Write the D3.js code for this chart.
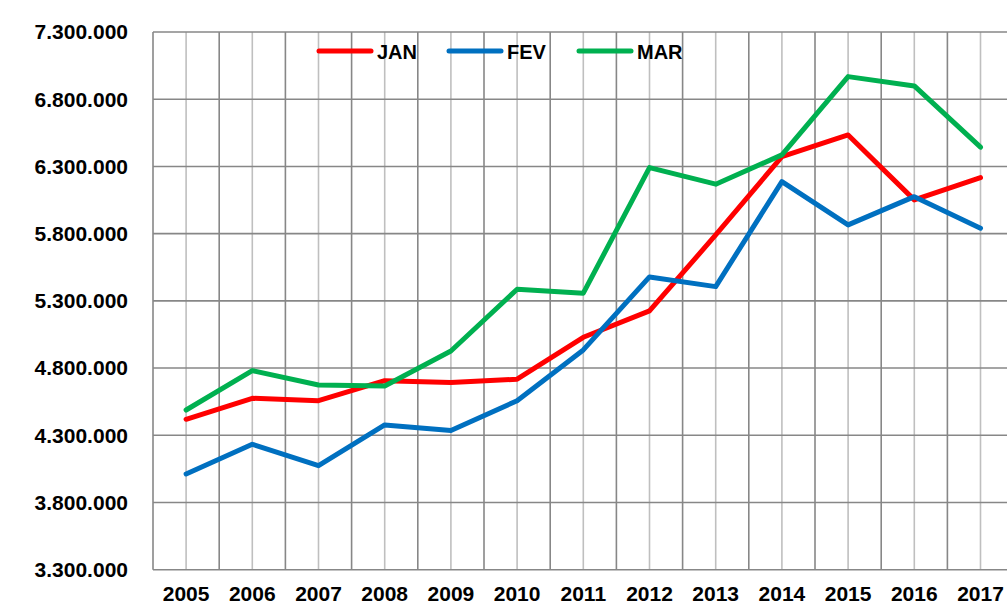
<!DOCTYPE html>
<html><head><meta charset="utf-8">
<script src="https://cdn.jsdelivr.net/npm/d3@7"></script>
<style>html,body{margin:0;padding:0;background:#fff;}svg{display:block;}</style>
</head><body>
<svg id="c" width="1007" height="608"></svg>
<script>
const years = ["2005","2006","2007","2008","2009","2010","2011","2012","2013","2014","2015","2016","2017"];
const jan = [4419000,4575000,4557000,4706000,4693000,4717000,5029000,5225000,5790000,6373000,6534000,6051000,6217000];
const fev = [4012000,4233000,4074000,4377000,4336000,4557000,4935000,5478000,5406000,6187000,5865000,6075000,5840000];
const mar = [4488000,4781000,4674000,4667000,4927000,5386000,5357000,6291000,6168000,6386000,6968000,6899000,6443000];
const yTicks = [3300000,3800000,4300000,4800000,5300000,5800000,6300000,6800000,7300000];
const seriesNames = ["JAN","FEV","MAR"];
const seriesColors = ["#FF0000","#0070C0","#00B050"];

const series = [jan, fev, mar];
const svg = d3.select("#c");
const L = 153, R = 1013.6, T = 32, B = 569.7;
const x = d3.scaleBand().domain(years).range([L, R]).padding(0);
const y = d3.scaleLinear().domain([3300000, 7300000]).range([B, T]);
const fmt = v => d3.format(",")(v).replace(/,/g, ".");
const font = "'Liberation Sans', Arial, sans-serif";

// vertical light lines at category centres
svg.append("g").selectAll("line").data(years).join("line")
  .attr("x1", d => x(d) + x.bandwidth()/2).attr("x2", d => x(d) + x.bandwidth()/2)
  .attr("y1", T).attr("y2", B).attr("stroke", "#BFBFBF").attr("stroke-width", 1.6);
// vertical dark lines at band boundaries
svg.append("g").selectAll("line").data(years).join("line")
  .attr("x1", d => x(d)).attr("x2", d => x(d))
  .attr("y1", T).attr("y2", B).attr("stroke", "#878787").attr("stroke-width", 1.6);
// horizontal gridlines
svg.append("g").selectAll("line").data(yTicks).join("line")
  .attr("x1", L).attr("x2", R).attr("y1", d => y(d)).attr("y2", d => y(d))
  .attr("stroke", "#878787").attr("stroke-width", 1.6);

// y labels
svg.append("g").selectAll("text").data(yTicks).join("text")
  .attr("x", 128).attr("y", d => y(d)).attr("dy", "0.35em")
  .attr("text-anchor", "end").attr("font-family", font).attr("font-weight", "bold")
  .attr("font-size", 21).attr("fill", "#000").text(fmt);
// x labels
svg.append("g").selectAll("text").data(years).join("text")
  .attr("x", d => x(d) + x.bandwidth()/2).attr("y", 601)
  .attr("text-anchor", "middle").attr("font-family", font).attr("font-weight", "bold")
  .attr("font-size", 21).attr("fill", "#000").text(d => d);

// lines
const line = d3.line().x((d, i) => x(years[i]) + x.bandwidth()/2).y(d => y(d));
series.forEach((s, k) => {
  svg.append("path").datum(s).attr("d", line).attr("fill", "none")
    .attr("stroke", seriesColors[k]).attr("stroke-width", 5)
    .attr("stroke-linejoin", "round").attr("stroke-linecap", "round");
});

// legend
const legX = [319, 449, 579];
seriesNames.forEach((n, k) => {
  const g = svg.append("g");
  g.append("line").attr("x1", legX[k]).attr("x2", legX[k] + 52).attr("y1", 51).attr("y2", 51)
    .attr("stroke", seriesColors[k]).attr("stroke-width", 5).attr("stroke-linecap", "round");
  g.append("text").attr("x", legX[k] + 58).attr("y", 58.5)
    .attr("font-family", font).attr("font-weight", "bold").attr("font-size", 20)
    .attr("fill", "#000").text(n);
});
</script>
</body></html>
